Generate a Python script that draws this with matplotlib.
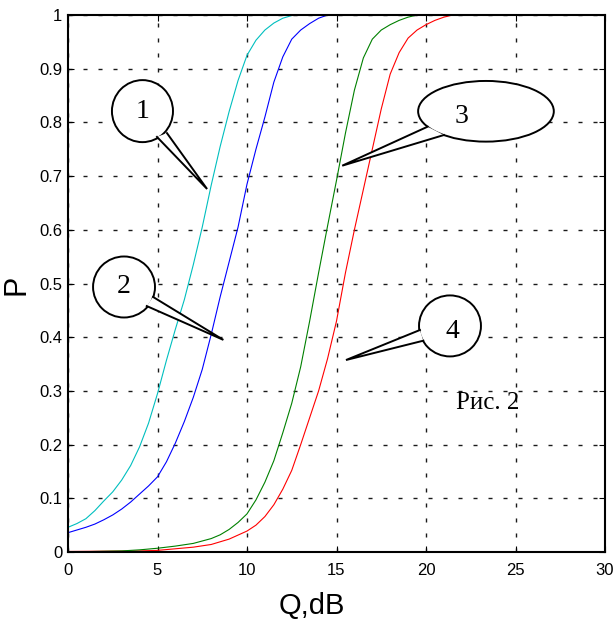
import matplotlib
matplotlib.use("Agg")
import matplotlib.pyplot as plt
from matplotlib.patches import Ellipse, Polygon

# Curve 1 (cyan)
q1 = [0, 0.5, 1, 1.5, 2, 2.5, 3, 3.5, 4, 4.5, 5, 5.5, 6, 6.5, 7, 7.5, 8, 8.5, 9, 9.5, 10,
      10.5, 11, 11.5, 12, 12.6, 30]
p1 = [0.046, 0.053, 0.062, 0.077, 0.095, 0.112, 0.134, 0.161, 0.196, 0.24, 0.295, 0.357,
      0.415, 0.47, 0.535, 0.605, 0.683, 0.755, 0.82, 0.878, 0.925, 0.953, 0.972, 0.985,
      0.994, 1.0, 1.0]

# Curve 2 (blue)
q2 = [0, 0.5, 1, 1.5, 2, 2.5, 3, 3.5, 4, 4.5, 5, 5.5, 6, 6.5, 7, 7.5, 8, 8.5, 9, 9.5, 10,
      10.5, 11, 11.5, 12, 12.5, 13, 13.5, 14, 14.5, 30]
p2 = [0.036, 0.041, 0.046, 0.052, 0.060, 0.069, 0.080, 0.093, 0.108, 0.123, 0.140, 0.168,
      0.203, 0.243, 0.288, 0.340, 0.405, 0.475, 0.54, 0.605, 0.685, 0.75, 0.81, 0.875,
      0.922, 0.955, 0.972, 0.984, 0.994, 1.0, 1.0]

# Curve 3 (green)
q3 = [0, 3, 4, 5, 6, 7, 8, 8.5, 9, 9.5, 10, 10.5, 11, 11.5, 12, 12.5, 13, 13.5, 14, 14.5,
      15, 15.5, 16, 16.5, 17, 17.5, 18, 18.5, 19, 19.5, 30]
p3 = [0.0, 0.002, 0.004, 0.007, 0.011, 0.016, 0.025, 0.032, 0.042, 0.055, 0.071, 0.097,
      0.13, 0.17, 0.222, 0.277, 0.345, 0.43, 0.52, 0.607, 0.692, 0.78, 0.86, 0.92, 0.955,
      0.972, 0.982, 0.99, 0.996, 1.0, 1.0]

# Curve 4 (red)
q4 = [0, 4, 5, 6, 7, 8, 9, 10, 10.5, 11, 11.5, 12, 12.5, 13, 13.5, 14, 14.5, 15, 15.5, 16,
      16.5, 17, 17.5, 18, 18.5, 19, 19.5, 20, 20.5, 21, 21.5, 30]
p4 = [0.001, 0.002, 0.003, 0.006, 0.009, 0.014, 0.024, 0.039, 0.05, 0.066, 0.088, 0.117,
      0.152, 0.2, 0.25, 0.3, 0.36, 0.43, 0.52, 0.6, 0.675, 0.75, 0.825, 0.89, 0.93, 0.957,
      0.972, 0.982, 0.99, 0.996, 1.0, 1.0]

x_ticks = [0, 5, 10, 15, 20, 25, 30]
y_ticks = [0, 0.1, 0.2, 0.3, 0.4, 0.5, 0.6, 0.7, 0.8, 0.9, 1]
y_tick_labels = ["0", "0.1", "0.2", "0.3", "0.4", "0.5", "0.6", "0.7", "0.8", "0.9", "1"]


def draw_callout(ax, center, w, h, base1, base2, tip, label, label_pos=None):
    """Word-style callout: ellipse with a wedge pointing at a curve"""
    ell = Ellipse(center, w, h, facecolor="white", edgecolor="black", lw=1.4, zorder=5)
    ax.add_patch(ell)
    wedge = Polygon([base1, tip, base2], closed=True, facecolor="white",
                    edgecolor="none", zorder=6)
    ax.add_patch(wedge)
    ax.plot([base1[0], tip[0], base2[0]], [base1[1], tip[1], base2[1]],
            color="black", lw=1.4, zorder=7, solid_joinstyle="miter")
    if label_pos is None:
        label_pos = center
    ax.text(label_pos[0], label_pos[1], label, fontsize=20, family="Liberation Serif",
            ha="center", va="center", zorder=8)


plt.rcParams["font.family"] = ["Liberation Sans", "DejaVu Sans"]

fig = plt.figure(figsize=(6.16, 6.2), dpi=100)
ax = fig.add_axes([68 / 616, 1 - 552 / 620, 537 / 616, 537 / 620])

ax.plot(q4, p4, color="#ff0000", lw=0.8)
ax.plot(q3, p3, color="#008000", lw=0.8)
ax.plot(q2, p2, color="#0000ff", lw=0.8)
ax.plot(q1, p1, color="#00bfbf", lw=0.8)

ax.set_xlim(0, 30)
ax.set_ylim(0, 1)
ax.set_xticks(x_ticks)
ax.set_yticks(y_ticks)
ax.set_yticklabels(y_tick_labels)
ax.tick_params(direction="in", top=True, right=True, length=4, width=0.8,
               labelsize=12)
ax.tick_params(axis="x", pad=8)
ax.tick_params(axis="y", pad=4)
for s in ax.spines.values():
    s.set_linewidth(1.5)
    s.set_zorder(10)

ax.set_axisbelow(True)
ax.grid(True, color="0.1", linestyle=(0, (2.9, 7.9)), linewidth=1.0)

ax.set_xlabel("Q,dB", fontsize=21)
ax.xaxis.set_label_coords(0.454, -0.074)
ax.set_ylabel("P", fontsize=22)
ax.yaxis.set_label_coords(-0.068, 0.497)

draw_callout(ax, (4.16, 0.821), 3.41, 0.1155, (4.97, 0.773), (5.53, 0.780),
             (7.77, 0.676), "1")
draw_callout(ax, (3.13, 0.4935), 3.46, 0.1136, (4.75, 0.475), (4.40, 0.458),
             (8.68, 0.395), "2")
draw_callout(ax, (23.35, 0.8207), 7.58, 0.113, (20.09, 0.792), (21.0, 0.7765),
             (15.32, 0.7194), "3", label_pos=(21.96, 0.8106))
draw_callout(ax, (21.34, 0.421), 3.46, 0.1136, (19.66, 0.4134), (19.85, 0.3935),
             (15.53, 0.3575), "4", label_pos=(21.45, 0.41))

ax.text(23.46, 0.277, "Рис. 2", fontsize=18, family="Liberation Serif",
        ha="center", va="center")

fig.savefig("out.png", dpi=100)
